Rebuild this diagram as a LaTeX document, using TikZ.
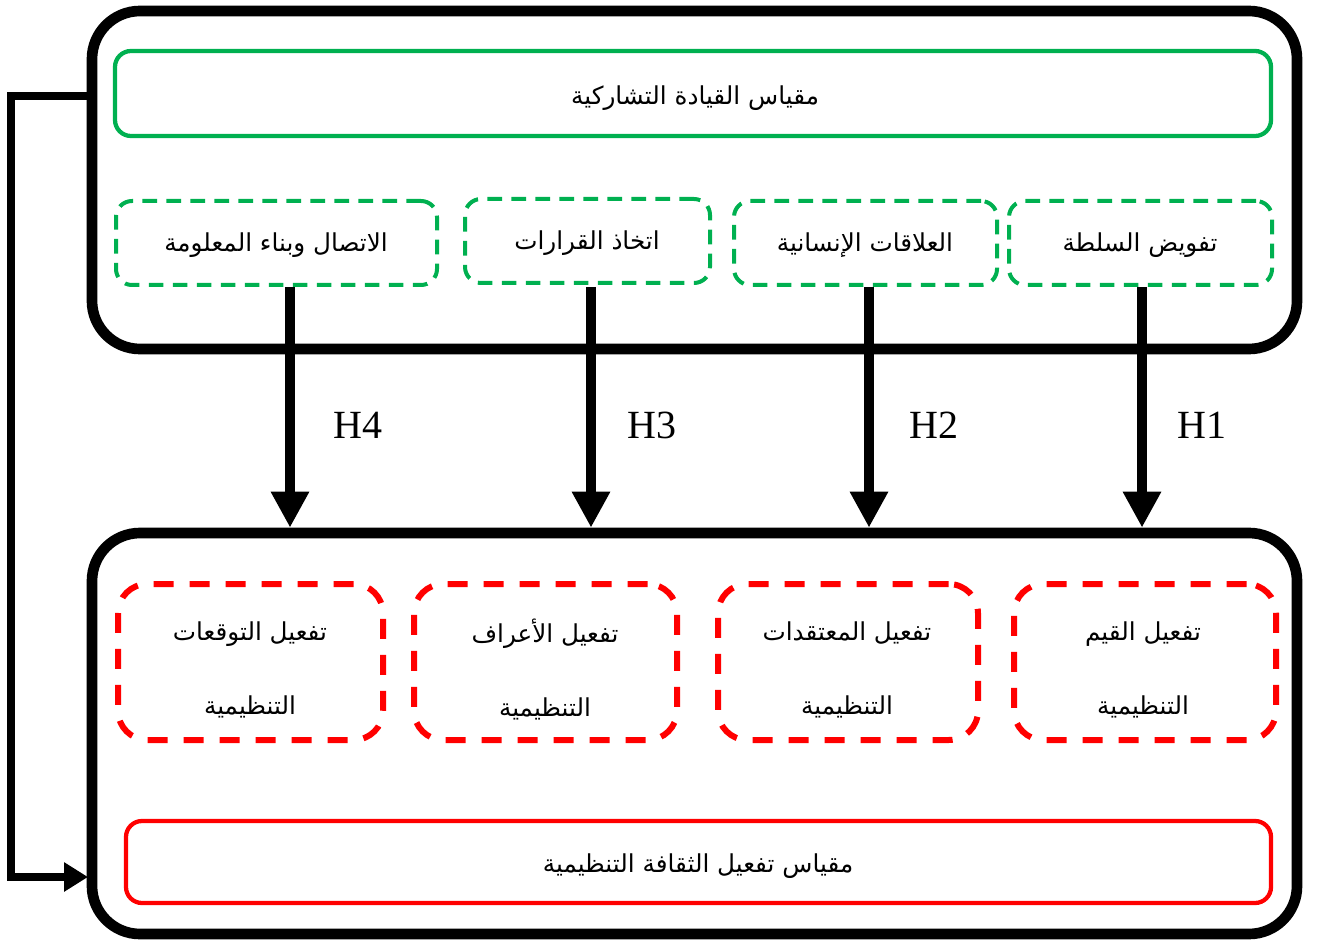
\documentclass[tikz,border=0pt]{standalone}
\usepackage{fontspec}
\setmainfont{Liberation Serif}
\newfontfamily\arabicfont[Script=Arabic]{DejaVu Sans}
\TeXXeTstate=1
\usetikzlibrary{arrows.meta,fit}

\definecolor{officegreen}{RGB}{0,176,80}
\definecolor{pure red}{RGB}{255,0,0}

\tikzset{
  px/.style={x=0.75pt,y=-0.75pt},
  artext/.style={font=\arabicfont\fontsize{18.5}{55.5}\selectfont,align=center,inner sep=0pt},
  outerbox/.style={draw=black,line width=8pt,rounded corners=36pt,inner sep=0pt},
  scalegreen/.style={draw=officegreen,line width=3.2pt,rounded corners=12pt,inner sep=0pt},
  scalered/.style={draw=pure red,line width=3.2pt,rounded corners=12pt,inner sep=0pt},
  dimgreen/.style={draw=officegreen,line width=3pt,dash pattern=on 11pt off 7pt,
    rounded corners=12pt,inner sep=0pt},
  dimred/.style={draw=pure red,line width=4.5pt,dash pattern=on 15pt off 12pt,
    rounded corners=22pt,inner sep=0pt},
  hyp/.style={draw=black,line width=7.5pt,
    -{Triangle[length=27pt,width=27pt]}},
  hlabel/.style={font=\fontsize{30}{32}\selectfont},
  feedback/.style={draw=black,line width=6.5pt,line join=miter,
    -{Triangle[length=18pt,width=21pt]}},
}

\begin{document}
\begin{tikzpicture}[px]
\useasboundingbox (0,0) rectangle (1319,944);

% independent variable: participative leadership
\node[outerbox,fit={(92,11) (1297,349)}] (lead) {};
\node[scalegreen,fit={(115,51) (1271,136)}] (leadscale) {};
\node[artext] (leadtxt) at (695,98) {\beginR مقياس القيادة التشاركية\endR};
\node[dimgreen,fit={(116,201) (437,285)}] (g4) {};
\node[dimgreen,fit={(465,199) (710,283)}] (g3) {};
\node[dimgreen,fit={(734,201) (997,285)}] (g2) {};
\node[dimgreen,fit={(1009,201) (1272,285)}] (g1) {};
\node[artext] (g4t) at (276,245) {\beginR الاتصال وبناء المعلومة\endR};
\node[artext] (g3t) at (587,243) {\beginR اتخاذ القرارات\endR};
\node[artext] (g2t) at (865,245) {\beginR العلاقات الإنسانية\endR};
\node[artext] (g1t) at (1140,245) {\beginR تفويض السلطة\endR};

% dependent variable: activating organisational culture
\node[outerbox,fit={(92,533) (1297,934)}] (cult) {};
\node[dimred,fit={(118,584) (383,740)}] (r4) {};
\node[dimred,fit={(414,584) (677,740)}] (r3) {};
\node[dimred,fit={(718,584) (978,740)}] (r2) {};
\node[dimred,fit={(1014,584) (1276,740)}] (r1) {};
\node[artext] (r4t) at (250,670) {\beginR تفعيل التوقعات\endR\\\beginR التنظيمية\endR};
\node[artext] (r3t) at (545,670) {\beginR تفعيل الأعراف\endR\\\beginR التنظيمية\endR};
\node[artext] (r2t) at (847,670) {\beginR تفعيل المعتقدات\endR\\\beginR التنظيمية\endR};
\node[artext] (r1t) at (1143,670) {\beginR تفعيل القيم\endR\\\beginR التنظيمية\endR};
\node[scalered,fit={(126,821) (1271,903)}] (cultscale) {};
\node[artext] (culttxt) at (698,866) {\beginR مقياس تفعيل الثقافة التنظيمية\endR};

% hypotheses
\coordinate (x4) at (290,0);
\coordinate (x3) at (591,0);
\coordinate (x2) at (869,0);
\coordinate (x1) at (1142,0);
\draw[hyp] (x4 |- g4.south) -- (x4 |- cult.north);
\draw[hyp] (x3 |- g4.south) -- (x3 |- cult.north);
\draw[hyp] (x2 |- g4.south) -- (x2 |- cult.north);
\draw[hyp] (x1 |- g4.south) -- (x1 |- cult.north);
\node[hlabel] (h4) at (358,425) {H4};
\node[hlabel] (h3) at (652,425) {H3};
\node[hlabel] (h2) at (934,425) {H2};
\node[hlabel] (h1) at (1202,425) {H1};

% overall relation between the two scales
\coordinate (fbA) at (88,96);
\coordinate (fbB) at (88,877);
\draw[feedback] (fbA) -- (11,96) -- (11,877) -- (fbB);
\end{tikzpicture}
\end{document}
